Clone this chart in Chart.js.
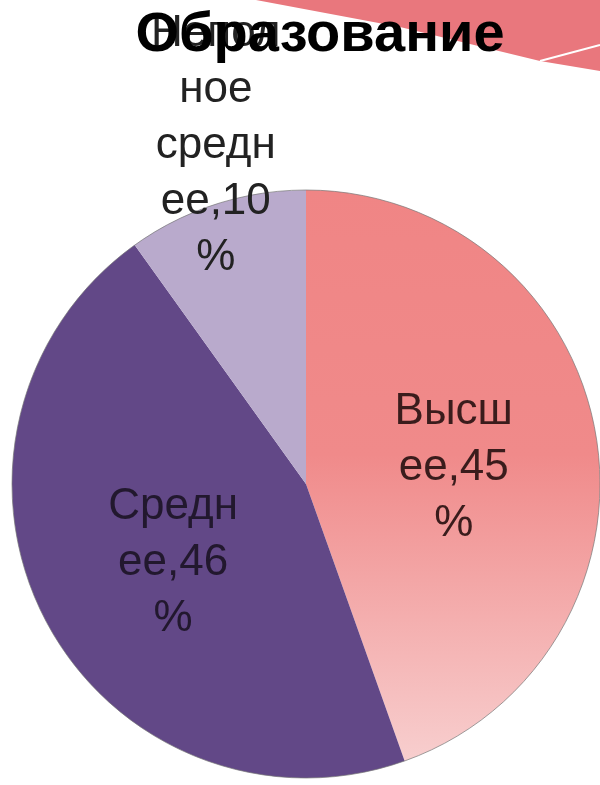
<!DOCTYPE html>
<html>
<head>
<meta charset="utf-8">
<title>Образование</title>
<script src="https://cdn.jsdelivr.net/npm/chart.js@4"></script>
<style>
    body { margin: 0; background: #fff; }
    #wrap { width: 600px; height: 785px; }
</style>
</head>
<body>
<div id="wrap"><canvas id="myChart" width="600" height="785"></canvas></div>
<script>
// данные диаграммы
const categories = ['Высшее', 'Среднее', 'Неполное среднее'];
const values = [45, 46, 10];
const colors = ['#F08787', '#624887', '#B9AACC'];
const titleText = 'Образование';

// подпись неполного среднего вынесена за круг
const labelDist = [0.51, 0.51, 1.2];
const labelShift = [0, 0, 3];
const labelDy = [9, 9, 3];

// уголок оформления слайда и заголовок
const slideDecor = {
    id: 'slideDecor',
    beforeDraw: function (chart) {
        const ctx = chart.ctx;
        ctx.save();
        ctx.fillStyle = '#E9777D';
        ctx.beginPath();
        ctx.moveTo(256, 0);
        ctx.lineTo(600, 0);
        ctx.lineTo(600, 71);
        ctx.lineTo(540, 61);
        ctx.lineTo(400, 27);
        ctx.closePath();
        ctx.fill();
        ctx.strokeStyle = '#fff';
        ctx.lineWidth = 2;
        ctx.beginPath();
        ctx.moveTo(540, 61);
        ctx.lineTo(600, 45);
        ctx.stroke();
        ctx.restore();
    },
    afterDraw: function (chart) {
        const ctx = chart.ctx;
        ctx.save();
        ctx.fillStyle = '#000';
        ctx.font = 'bold 56px "Liberation Sans", Arial, sans-serif';
        ctx.textAlign = 'center';
        ctx.textBaseline = 'middle';
        ctx.fillText(titleText, 320, 36);
        ctx.restore();
    }
};

// перенос подписи по ширине, как в Excel
function wrapText(ctx, text, maxWidth) {
    var lines = [];
    var words = text.split(' ');
    words.forEach(function (word) {
        var cur = '';
        for (var i = 0; i < word.length; i++) {
            var test = cur + word[i];
            if (cur && ctx.measureText(test).width > maxWidth) {
                lines.push(cur);
                cur = word[i];
            } else {
                cur = test;
            }
        }
        if (cur) lines.push(cur);
    });
    return lines;
}

const pieLabels = {
    id: 'pieLabels',
    afterDatasetsDraw: function (chart) {
        const ctx = chart.ctx;
        const meta = chart.getDatasetMeta(0);
        ctx.save();
        // тонкая серая обводка круга
        const a0 = meta.data[0];
        ctx.strokeStyle = 'rgba(120,120,120,0.7)';
        ctx.lineWidth = 1;
        ctx.beginPath();
        ctx.arc(a0.x, a0.y, a0.outerRadius, 0, Math.PI * 2);
        ctx.stroke();

        ctx.font = '44px "Liberation Sans", Arial, sans-serif';
        ctx.textAlign = 'center';
        ctx.textBaseline = 'middle';
        meta.data.forEach(function (arc, i) {
            const p = arc.getProps(['x', 'y', 'startAngle', 'endAngle', 'outerRadius'], true);
            const mid = (p.startAngle + p.endAngle) / 2 + labelShift[i] * Math.PI / 180;
            const r = p.outerRadius * labelDist[i];
            const cx = p.x + Math.cos(mid) * r;
            const cy = p.y + Math.sin(mid) * r + labelDy[i];
            const txt = categories[i] + ',' + values[i] + '%';
            const lines = wrapText(ctx, txt, 138);
            const lh = 56;
            ctx.fillStyle = i == 1 ? '#22182e' : (i == 0 ? '#3a1c1c' : '#222');
            lines.forEach(function (ln, k) {
                ctx.fillText(ln, cx, cy + (k - (lines.length - 1) / 2) * lh);
            });
        });
        ctx.restore();
    }
};

const ctx = document.getElementById('myChart').getContext('2d');
const myChart = new Chart(ctx, {
    type: 'pie',
    data: {
        labels: categories,
        datasets: [{
            data: values,
            backgroundColor: function (c) {
                if (c.dataIndex !== 0) return colors[c.dataIndex];
                const area = c.chart.chartArea;
                if (!area) return colors[0];
                const g = c.chart.ctx.createLinearGradient(0, area.top, 0, area.bottom);
                g.addColorStop(0, '#F08585');
                g.addColorStop(0.45, '#F08A8A');
                g.addColorStop(1, '#F8D2D2');
                return g;
            },
            borderWidth: 0
        }]
    },
    options: {
        responsive: false,
        animation: false,
        layout: {
            padding: { left: 12, right: 0, top: 190, bottom: 7 }
        },
        plugins: {
            legend: { display: false },
            tooltip: { enabled: false },
            title: { display: false }
        }
    },
    plugins: [slideDecor, pieLabels]
});
</script>
</body>
</html>
